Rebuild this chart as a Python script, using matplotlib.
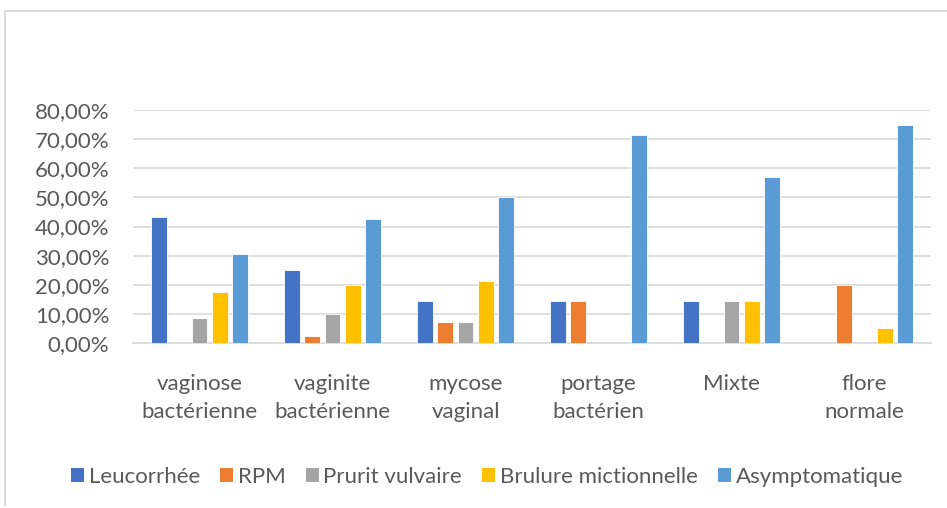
import matplotlib
matplotlib.use("Agg")
import matplotlib.pyplot as plt
import numpy as np
from matplotlib.patches import Patch
from matplotlib.lines import Line2D
from matplotlib.ticker import FuncFormatter, MultipleLocator

plt.rcParams['font.family'] = ['Lato', 'DejaVu Sans']

categories = ["vaginose\nbactérienne", "vaginite\nbactérienne", "mycose\nvaginal",
              "portage\nbactérien", "Mixte", "flore\nnormale"]
series_names = ["Leucorrhée", "RPM", "Prurit vulvaire", "Brulure mictionnelle", "Asymptomatique"]
leucorrhee = [43.4, 25.0, 14.3, 14.3, 14.3, 0.0]
rpm = [0.0, 2.5, 7.1, 14.3, 0.0, 20.0]
prurit = [8.7, 10.0, 7.1, 0.0, 14.3, 0.0]
brulure = [17.4, 20.0, 21.4, 0.0, 14.3, 5.0]
asymptomatique = [30.4, 42.5, 50.0, 71.4, 57.1, 75.0]
colors = ["#4472C4", "#ED7D31", "#A5A5A5", "#FFC000", "#5B9BD5"]

data = [leucorrhee, rpm, prurit, brulure, asymptomatique]

fig = plt.figure(figsize=(9.47, 5.08), dpi=100)
ax = fig.add_axes([133/947, 1-343/508, (931-133)/947, (343-110)/508])

x = np.arange(len(categories))
step = 0.1526
width = 0.117
for i, (vals, c) in enumerate(zip(data, colors)):
    ax.bar(x + (i - 2) * step, np.array(vals) / 100, width=width, color=c,
           edgecolor="white", linewidth=0.6, zorder=3)

ax.set_xlim(-0.5, len(categories) - 0.5)
ax.set_ylim(0, 0.8)
ax.yaxis.set_major_locator(MultipleLocator(0.1))
ax.yaxis.set_major_formatter(FuncFormatter(lambda v, p: f"{v*100:.2f}%".replace(".", ",")))
ax.grid(axis="y", color="#D9D9D9", linewidth=1.2, zorder=0)
for s in ["top", "right", "left"]:
    ax.spines[s].set_visible(False)
ax.spines["bottom"].set_color("#D9D9D9")
ax.spines["bottom"].set_linewidth(1.2)
ax.set_xticks(x)
ax.set_xticklabels(categories, linespacing=1.5)
ax.tick_params(axis="both", length=0, labelsize=16, colors="#595959")
ax.tick_params(axis="x", pad=22)
ax.tick_params(axis="y", pad=17)

handles = [Patch(facecolor=c, edgecolor="none") for c in colors]
leg = fig.legend(handles, series_names, loc="center", bbox_to_anchor=(487/947, 1-477/508),
                 ncol=5, frameon=False, fontsize=16, handlelength=0.6, handleheight=0.6,
                 handletextpad=0.2, columnspacing=0.9)
for t in leg.get_texts():
    t.set_color("#595959")

# chart frame (top and left borders visible)
fig.add_artist(Line2D([5/947, 1.0], [1-11/508, 1-11/508], color="#D9D9D9", linewidth=1.5))
fig.add_artist(Line2D([5/947, 5/947], [1-11/508, 1-505/508], color="#D9D9D9", linewidth=1.5))

fig.savefig("out.png", dpi=100)
